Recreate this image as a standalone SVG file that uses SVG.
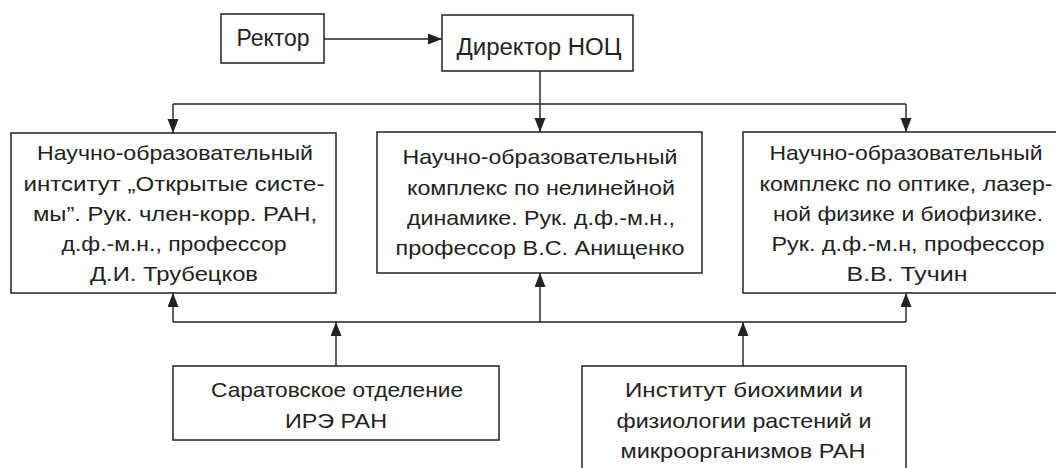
<svg xmlns="http://www.w3.org/2000/svg" width="1056" height="468" viewBox="0 0 1056 468">
<style>
.box{fill:#fff;stroke:#222;stroke-width:1.5}
.t{font-family:"Liberation Sans",Arial,sans-serif;font-size:21px;fill:#222;text-anchor:middle}
.tt{font-family:"Liberation Sans",Arial,sans-serif;font-size:23px;fill:#222;text-anchor:middle}
.c{fill:none;stroke:#222;stroke-width:1.4}
</style>
<defs>
<marker id="arr" markerUnits="userSpaceOnUse" markerWidth="15" markerHeight="12" refX="14" refY="5.5" orient="auto">
<path d="M0,0 L14,5.5 L0,11 z" fill="#222"/>
</marker>
</defs>
<rect width="1056" height="468" fill="#fff"/>
<g id="connectors">
<line class="c" x1="324" y1="39" x2="442" y2="39" marker-end="url(#arr)"/>
<polyline class="c" points="540,71 540,104"/>
<line class="c" x1="173" y1="104" x2="906" y2="104"/>
<line class="c" x1="173" y1="104" x2="173" y2="133" marker-end="url(#arr)"/>
<line class="c" x1="540" y1="104" x2="540" y2="132" marker-end="url(#arr)"/>
<line class="c" x1="906" y1="104" x2="906" y2="132" marker-end="url(#arr)"/>
<line class="c" x1="173" y1="322" x2="906" y2="322"/>
<line class="c" x1="173" y1="322" x2="173" y2="293" marker-end="url(#arr)"/>
<line class="c" x1="540" y1="322" x2="540" y2="273" marker-end="url(#arr)"/>
<line class="c" x1="906" y1="322" x2="906" y2="293" marker-end="url(#arr)"/>
<line class="c" x1="336" y1="366" x2="336" y2="322" marker-end="url(#arr)"/>
<line class="c" x1="743" y1="366" x2="743" y2="322" marker-end="url(#arr)"/>
</g>
<g id="rector">
<rect class="box" x="221" y="14" width="103" height="49"/>
<text class="tt" x="273" y="46" textLength="73" lengthAdjust="spacingAndGlyphs">Ректор</text>
</g>
<g id="director">
<rect class="box" x="442" y="15" width="191" height="56"/>
<text class="tt" x="539" y="55" textLength="165" lengthAdjust="spacingAndGlyphs">Директор НОЦ</text>
</g>
<g id="institute-open-systems">
<rect class="box" x="11" y="133" width="325" height="160"/>
<text class="t" x="175" y="160" textLength="276" lengthAdjust="spacingAndGlyphs">Научно-образовательный</text>
<text class="t" x="174" y="191" textLength="301" lengthAdjust="spacingAndGlyphs">интситут „Открытые систе-</text>
<text class="t" x="175" y="221" textLength="284" lengthAdjust="spacingAndGlyphs">мы”. Рук. член-корр. РАН,</text>
<text class="t" x="174" y="251" textLength="225" lengthAdjust="spacingAndGlyphs">д.ф.-м.н., профессор</text>
<text class="t" x="174" y="281" textLength="168" lengthAdjust="spacingAndGlyphs">Д.И. Трубецков</text>
</g>
<g id="complex-nonlinear">
<rect class="box" x="377" y="132" width="325" height="141"/>
<text class="t" x="540" y="164" textLength="275" lengthAdjust="spacingAndGlyphs">Научно-образовательный</text>
<text class="t" x="541" y="195" textLength="268" lengthAdjust="spacingAndGlyphs">комплекс по нелинейной</text>
<text class="t" x="541" y="225" textLength="268" lengthAdjust="spacingAndGlyphs">динамике. Рук. д.ф.-м.н.,</text>
<text class="t" x="540" y="255" textLength="289" lengthAdjust="spacingAndGlyphs">профессор В.С. Анищенко</text>
</g>
<g id="complex-optics">
<rect class="box" x="743" y="132" width="330" height="161"/>
<text class="t" x="906" y="160" textLength="273" lengthAdjust="spacingAndGlyphs">Научно-образовательный</text>
<text class="t" x="906" y="191" textLength="293" lengthAdjust="spacingAndGlyphs">комплекс по оптике, лазер-</text>
<text class="t" x="908" y="221" textLength="270" lengthAdjust="spacingAndGlyphs">ной физике и биофизике.</text>
<text class="t" x="908" y="251" textLength="273" lengthAdjust="spacingAndGlyphs">Рук. д.ф.-м.н, профессор</text>
<text class="t" x="907" y="281" textLength="121" lengthAdjust="spacingAndGlyphs">В.В. Тучин</text>
</g>
<g id="saratov-ire">
<rect class="box" x="173" y="366" width="326" height="74"/>
<text class="t" x="337" y="397" textLength="252" lengthAdjust="spacingAndGlyphs">Саратовское отделение</text>
<text class="t" x="336" y="428" textLength="102" lengthAdjust="spacingAndGlyphs">ИРЭ РАН</text>
</g>
<g id="biochem-institute">
<rect class="box" x="582" y="366" width="324" height="110"/>
<text class="t" x="744" y="397" textLength="238" lengthAdjust="spacingAndGlyphs">Институт биохимии и</text>
<text class="t" x="744" y="428" textLength="255" lengthAdjust="spacingAndGlyphs">физиологии растений и</text>
<text class="t" x="743" y="458" textLength="245" lengthAdjust="spacingAndGlyphs">микроорганизмов РАН</text>
</g>
</svg>
